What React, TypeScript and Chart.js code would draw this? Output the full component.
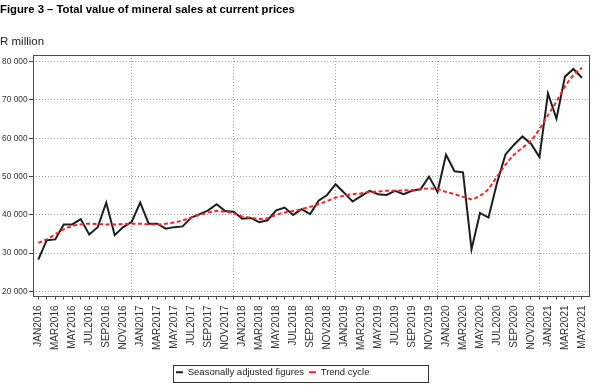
import React, { useEffect, useRef } from 'react';
import { Chart, registerables } from 'chart.js';

Chart.register(...registerables);

const months = [
  'JAN2016', 'FEB2016', 'MAR2016', 'APR2016', 'MAY2016', 'JUN2016', 'JUL2016', 'AUG2016', 'SEP2016', 'OCT2016', 'NOV2016', 'DEC2016',
  'JAN2017', 'FEB2017', 'MAR2017', 'APR2017', 'MAY2017', 'JUN2017', 'JUL2017', 'AUG2017', 'SEP2017', 'OCT2017', 'NOV2017', 'DEC2017',
  'JAN2018', 'FEB2018', 'MAR2018', 'APR2018', 'MAY2018', 'JUN2018', 'JUL2018', 'AUG2018', 'SEP2018', 'OCT2018', 'NOV2018', 'DEC2018',
  'JAN2019', 'FEB2019', 'MAR2019', 'APR2019', 'MAY2019', 'JUN2019', 'JUL2019', 'AUG2019', 'SEP2019', 'OCT2019', 'NOV2019', 'DEC2019',
  'JAN2020', 'FEB2020', 'MAR2020', 'APR2020', 'MAY2020', 'JUN2020', 'JUL2020', 'AUG2020', 'SEP2020', 'OCT2020', 'NOV2020', 'DEC2020',
  'JAN2021', 'FEB2021', 'MAR2021', 'APR2021', 'MAY2021',
];

const seasonallyAdjusted = [
  28300, 33400, 33600, 37500, 37500, 38900, 34900, 36800, 43200, 34700, 36800, 38200,
  43200, 37700, 37700, 36400, 36800, 37000, 39300, 40200, 41200, 42800, 41000, 40800,
  39000, 39200, 38100, 38600, 41200, 41900, 40000, 41500, 40200, 43700, 45200, 48000,
  45800, 43500, 44900, 46300, 45400, 45200, 46300, 45400, 46300, 46700, 50000, 46000,
  55700, 51400, 51100, 31000, 40500, 39300, 48300, 55800, 58300, 60500, 58600, 55100,
  71700, 65100, 76100, 78100, 75800,
];

const trendCycle = [
  32700, 33600, 34900, 36200, 37100, 37500, 37700, 37600, 37500, 37500, 37600, 37700,
  37700, 37500, 37500, 37700, 38000, 38600, 39300, 40000, 40600, 41000, 40800, 40400,
  39600, 39300, 38900, 39100, 40000, 40600, 41000, 41500, 42100, 42800, 43600, 44500,
  45000, 45400, 45600, 46000, 46100, 46300, 46300, 46400, 46500, 46700, 46900, 46700,
  46000, 45400, 44700, 44100, 45000, 46800, 50000, 53100, 55700, 57500, 59400, 62400,
  66000, 69600, 73500, 76500, 78400,
];

const yTicks = [20000, 30000, 40000, 50000, 60000, 70000, 80000];

const SANS = "'Liberation Sans', Arial, sans-serif";

const fmt = (v: number) => String(v).replace(/\B(?=(\d{3})+(?!\d))/g, ' ');

const framePlugin = {
  id: 'frame',
  beforeDatasetsDraw(chart: any) {
    const { ctx, chartArea: a } = chart;
    ctx.save();
    ctx.strokeStyle = '#4a4a4a';
    ctx.lineWidth = 1;
    ctx.setLineDash([]);
    ctx.strokeRect(Math.round(a.left) + 0.5, Math.round(a.top) + 0.5, Math.round(a.right - a.left), Math.round(a.bottom - a.top));
    ctx.restore();
  },
};

const legendBoxPlugin = {
  id: 'legendBox',
  afterUpdate(chart: any) {
    const lg = chart.legend;
    if (!lg) return;
    lg.left = 171;
  },
  afterDraw(chart: any) {
    const lg = chart.legend;
    if (!lg) return;
    const { ctx } = chart;
    ctx.save();
    ctx.strokeStyle = '#333';
    ctx.lineWidth = 1;
    ctx.setLineDash([]);
    ctx.strokeRect(Math.round(lg.left + 2) + 0.5, Math.round(lg.top + 2) + 0.5, 255, 17);
    ctx.restore();
  },
};

export default function App() {
  const ref = useRef<HTMLCanvasElement | null>(null);

  useEffect(() => {
    if (!ref.current) return;
    const chart = new Chart(ref.current, {
      type: 'line',
      data: {
        datasets: [
          {
            label: 'Seasonally adjusted figures',
            data: months.map((_, i) => ({ x: i, y: seasonallyAdjusted[i] })),
            borderColor: '#1e1e1e',
            backgroundColor: '#1e1e1e',
            borderWidth: 2,
            pointRadius: 0,
            tension: 0,
            order: 1,
          },
          {
            label: 'Trend cycle',
            data: months.map((_, i) => ({ x: i, y: trendCycle[i] })),
            borderColor: '#f0282d',
            backgroundColor: '#f0282d',
            borderWidth: 2,
            borderDash: [4, 2.5],
            pointRadius: 0,
            tension: 0.4,
            cubicInterpolationMode: 'monotone',
            order: 0,
          },
        ],
      },
      options: {
        responsive: false,
        animation: false,
        events: [],
        layout: { padding: { left: 0, right: 5, top: 0, bottom: 0 } },
        plugins: {
          tooltip: { enabled: false },
          title: {
            display: true,
            text: 'Figure 3 – Total value of mineral sales at current prices',
            align: 'start',
            color: '#000',
            font: { family: SANS, size: 11.3, weight: 'bold' },
            padding: { top: 3, bottom: 0 },
          },
          subtitle: {
            display: true,
            text: 'R million',
            align: 'start',
            color: '#222',
            font: { family: SANS, size: 11.5 },
            padding: { top: 18.8, bottom: 5.8 },
          },
          legend: {
            display: true,
            position: 'bottom',
            align: 'start',
            labels: {
              usePointStyle: true,
              pointStyle: 'line',
              pointStyleWidth: 7,
              padding: 5,
              color: '#222',
              font: { family: SANS, size: 9.5 },
              sort: (a: any, b: any) => a.datasetIndex - b.datasetIndex,
            },
          },
        },
        scales: {
          x: {
            type: 'linear',
            min: -0.62,
            max: 64.78,
            afterBuildTicks: (s: any) => {
              s.ticks = months.map((_, i) => ({ value: i }));
            },
            afterFit: (s: any) => {
              s.height = 67;
            },
            ticks: {
              autoSkip: false,
              minRotation: 90,
              maxRotation: 90,
              padding: 6,
              color: '#333',
              font: { family: SANS, size: 10 },
              callback: (v: any) => (v % 2 === 0 ? months[v] : ''),
            },
            grid: {
              color: (c: any) => (c.tick && c.tick.value % 12 === 11 ? '#9a9a9a' : 'rgba(0,0,0,0)'),
              tickColor: '#444',
              tickLength: 4,
              tickBorderDash: [],
              lineWidth: 1,
            },
            border: { display: false, dash: [1, 2] },
          },
          y: {
            min: 18950,
            max: 81760,
            afterBuildTicks: (s: any) => {
              s.ticks = yTicks.map((v) => ({ value: v }));
            },
            afterFit: (s: any) => {
              s.width = 33;
            },
            ticks: {
              padding: 1.5,
              color: '#333',
              font: { family: SANS, size: 8.3 },
              callback: (v: any) => fmt(v),
            },
            grid: {
              color: '#9a9a9a',
              tickColor: '#444',
              tickLength: 4,
              tickBorderDash: [],
              lineWidth: 1,
            },
            border: { display: false, dash: [1, 2] },
          },
        },
      } as any,
      plugins: [framePlugin, legendBoxPlugin],
    });
    return () => chart.destroy();
  }, []);

  return (
    <div style={{ position: 'absolute', left: 0, top: 0, width: 600, height: 387, background: '#fff' }}>
      <canvas ref={ref} width={600} height={387} style={{ width: 600, height: 387, display: 'block' }} />
    </div>
  );
}
